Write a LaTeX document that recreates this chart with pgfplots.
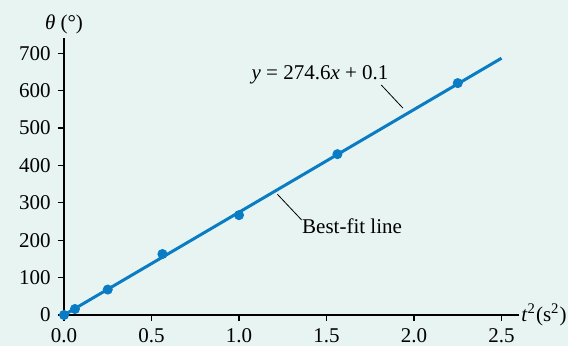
\documentclass[border=0pt]{standalone}
\usepackage{pgfplots}
\pgfplotsset{compat=1.18}
\usepackage{fontspec}
\setmainfont{Liberation Serif}
\definecolor{bg}{HTML}{E7F4F2}
\definecolor{fitblue}{HTML}{0A7CC4}
\begin{document}
\fontsize{10.5}{12}\selectfont
\begin{tikzpicture}
\fill[bg] (-32pt,-15.5pt) rectangle (252pt,157.5pt);
\begin{axis}[
  anchor=origin, at={(0,0)},
  x=87.5pt, y=0.187pt,
  xmin=0, xmax=2.6, ymin=0, ymax=740,
  axis lines=left,
  axis line style={-, line width=0.75pt},
  tick align=outside,
  major tick length=3pt,
  tick style={black, line width=0.6pt},
  xtick={0,0.5,1,1.5,2,2.5},
  xticklabels={0.0,0.5,1.0,1.5,2.0,2.5},
  ytick={0,100,200,300,400,500,600,700},
  yticklabels={0,100,200,300,400,500,600,700},
  ticklabel style={font=\fontsize{10.5}{12}\selectfont},
  clip=false,
]
\addplot[fitblue, line width=1.5pt] coordinates {(0,0.1) (2.5,686.6)};
\addplot[only marks, mark=*, mark size=2.3pt, fitblue, mark options={draw=fitblue, fill=fitblue}] coordinates {
  (0,0) (0.0625,16) (0.25,68) (0.5625,163) (1.0,267) (1.5625,430) (2.25,620)};
\node[anchor=west, inner sep=1pt] at (axis cs:2.6,0) {\textit{t}\textsuperscript{2}(s\textsuperscript{2})};
\node[anchor=south, inner sep=2pt] at (axis cs:0,740) {\textit{θ} (°)};
\node at (axis cs:1.463,642) {\textit{y} = 274.6\textit{x} + 0.1};
\draw[black, line width=0.4pt] (axis cs:1.813,615) -- (axis cs:1.937,553);
\node at (axis cs:1.646,238) {Best-fit line};
\draw[black, line width=0.4pt] (axis cs:1.219,323) -- (axis cs:1.358,254);
\end{axis}
\pgfresetboundingbox
\useasboundingbox (-32pt,-15.5pt) rectangle (252pt,157.5pt);
\end{tikzpicture}
\end{document}
